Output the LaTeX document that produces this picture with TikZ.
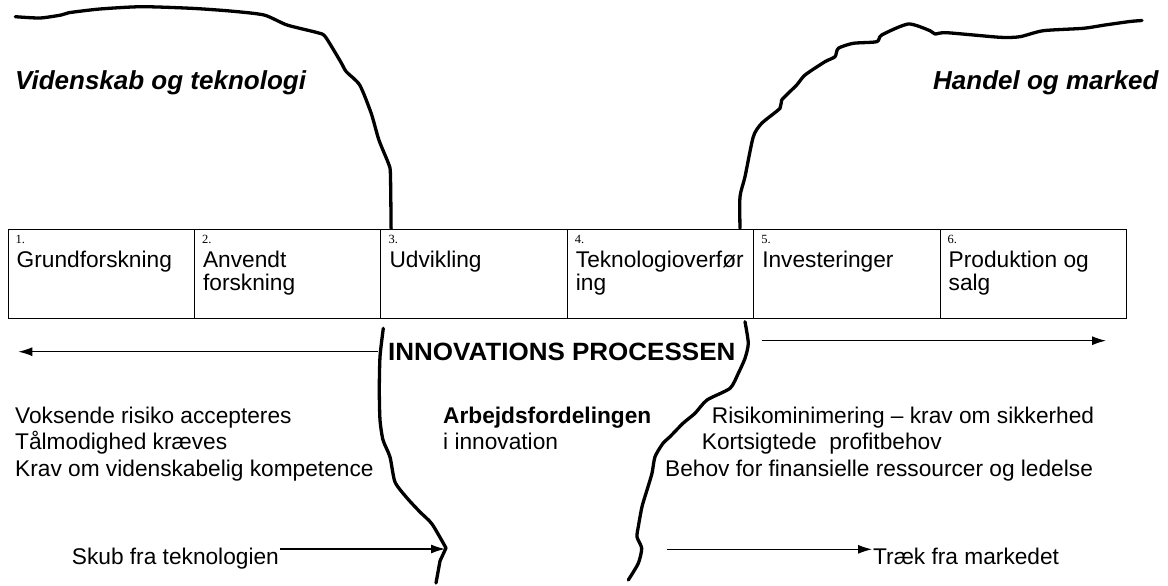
\documentclass[tikz,border=0pt]{standalone}
\usepackage{fontspec}
\setmainfont{Liberation Sans}
\newfontfamily\numfont{Liberation Serif}
\usetikzlibrary{arrows.meta}

\tikzset{
  stage/.style={draw, line width=1.1pt, minimum width=186.4pt, minimum height=89pt,
    inner sep=0pt, anchor=north west},
  stagenum/.style={font=\numfont\fontsize{12.5}{13}\selectfont, inner sep=0pt, anchor=base west},
  txt/.style={font=\fontsize{22.7}{26}\selectfont, inner sep=0pt, anchor=base west},
  boldtxt/.style={font=\bfseries\fontsize{22.7}{26}\selectfont, inner sep=0pt, anchor=base west},
  realm/.style={font=\bfseries\itshape\fontsize{26}{30}\selectfont, inner sep=0pt, anchor=base west},
  banner/.style={font=\bfseries\fontsize{25}{30}\selectfont, inner sep=0pt, anchor=base west, xscale=1.04},
  divide/.style={line width=3.3pt, line join=round, line cap=round},
  flow/.style={line width=1.1pt, -{Latex[length=14pt,width=9pt]}},
}

\begin{document}
\begin{tikzpicture}[x=1pt, y=-1pt]
\useasboundingbox (0,0) rectangle (1168,586);

% the six stages of the innovation process
\node[stage] (b1) at (7.5,228.5) {};
\node[stage] (b2) at (193.9,228.5) {};
\node[stage] (b3) at (380.3,228.5) {};
\node[stage] (b4) at (566.7,228.5) {};
\node[stage] (b5) at (753.1,228.5) {};
\node[stage] (b6) at (939.5,228.5) {};

\node[stagenum] (n1) at (15.5,243.5) {1.};
\node[stagenum] (n2) at (201.9,243.5) {2.};
\node[stagenum] (n3) at (388.3,243.5) {3.};
\node[stagenum] (n4) at (574.7,243.5) {4.};
\node[stagenum] (n5) at (761.1,243.5) {5.};
\node[stagenum] (n6) at (947.5,243.5) {6.};

\node[txt] (s1) at (16.5,267.5) {Grundforskning};
\node[txt] (s2a) at (202.9,267.5) {Anvendt};
\node[txt] (s2b) at (202.9,290.8) {forskning};
\node[txt] (s3) at (389.3,267.5) {Udvikling};
\node[txt] (s4a) at (575.7,267.5) {Teknologioverfør};
\node[txt] (s4b) at (575.7,290.8) {ing};
\node[txt] (s5) at (762.1,267.5) {Investeringer};
\node[txt] (s6a) at (948.5,267.5) {Produktion og};
\node[txt] (s6b) at (948.5,290.8) {salg};

% the two worlds
\node[realm] (sci) at (15,90) {Videnskab og teknologi};
\node[realm] (mkt) at (933,90) {Handel og marked};

% boundary lines above the stages
\draw[divide] plot[smooth, tension=0.4] coordinates {
  (15.3,16.7) (40,18) (61.2,15) (68.9,12.7) (100,9) (141.6,6.7) (191.3,8.3)
  (230,11) (264,15) (287,25) (317.6,32.7) (325.3,36.7) (340.6,61.7) (346.3,71.7)
  (359.7,85) (371.2,113.3) (378.9,140) (388.4,163.3) (390.4,173.3) (391.1,228.3)};
\draw[divide] plot[smooth, tension=0.4] coordinates {
  (740,228.3) (740,196.7) (745,176.7) (753.3,136.7) (761.7,123.3) (780,108.3)
  (781.7,100) (796.7,85) (805,75) (825,61.7) (835,56.7) (838.3,48.3) (853.3,43.3)
  (876.7,41.7) (881.7,35) (908.3,24) (930,30.7) (935,34) (946.7,32.7) (1000,37.3)
  (1020,36.7) (1043.3,30.7) (1083.3,28.3) (1105,25) (1130,21.5) (1142,20.5)};

% boundary lines below the stages
\draw[divide] plot[smooth, tension=0.4] coordinates {
  (383.3,328.3) (380,356.7) (379.3,390) (380,420) (383,440) (390,457) (395,482)
  (407,498) (420,512) (432,524) (446,548)};
\draw[divide] (446,548) -- (440,561) -- (436,583);
\draw[divide] plot[smooth, tension=0.4] coordinates {
  (745,321.7) (748.3,343.3) (745,358.3) (738.3,373.3) (730,388.3) (707,400)
  (695,413.3) (683,423.3) (670,436.7) (663,443.3) (655,456.7) (652,473.3)
  (647,490) (642,506.7) (638.3,526.7) (637,537) (641.7,548.3) (638.3,563.3) (628.3,580)};

% the process banner with its two directions
\node[banner] (innov) at (388,360.7) {INNOVATIONS PROCESSEN};
\coordinate (leftStart) at (378,351.7);
\coordinate (leftTip) at (18.4,351.7);
\coordinate (rightStart) at (761.7,340.7);
\coordinate (rightTip) at (1106,340.7);
\draw[flow] (leftStart) -- (leftTip);
\draw[flow] (rightStart) -- (rightTip);

% characteristics of each side
\node[txt] (l1) at (15,423) {Voksende risiko accepteres};
\node[txt] (l2) at (15,449.5) {Tålmodighed kræves};
\node[txt] (l3) at (15,476) {Krav om videnskabelig kompetence};

\node[boldtxt] (c1) at (443,423) {Arbejdsfordelingen};
\node[txt] (c2) at (443,449.5) {i innovation};

\node[txt] (r1) at (711.7,423) {Risikominimering – krav om sikkerhed};
\node[txt] (r2) at (701.7,449.5) {Kortsigtede\ \ profitbehov};
\node[txt] (r3) at (665,476) {Behov for finansielle ressourcer og ledelse};

% push and pull
\node[txt] (push) at (71.7,564) {Skub fra teknologien};
\coordinate (pushStart) at (280,549);
\coordinate (pushTip) at (445,549);
\draw[flow] (pushStart) -- (pushTip);

\node[txt] (pull) at (873,564) {Træk fra markedet};
\coordinate (pullStart) at (666.7,549.3);
\coordinate (pullTip) at (872,549.3);
\draw[flow] (pullStart) -- (pullTip);
\end{tikzpicture}
\end{document}
